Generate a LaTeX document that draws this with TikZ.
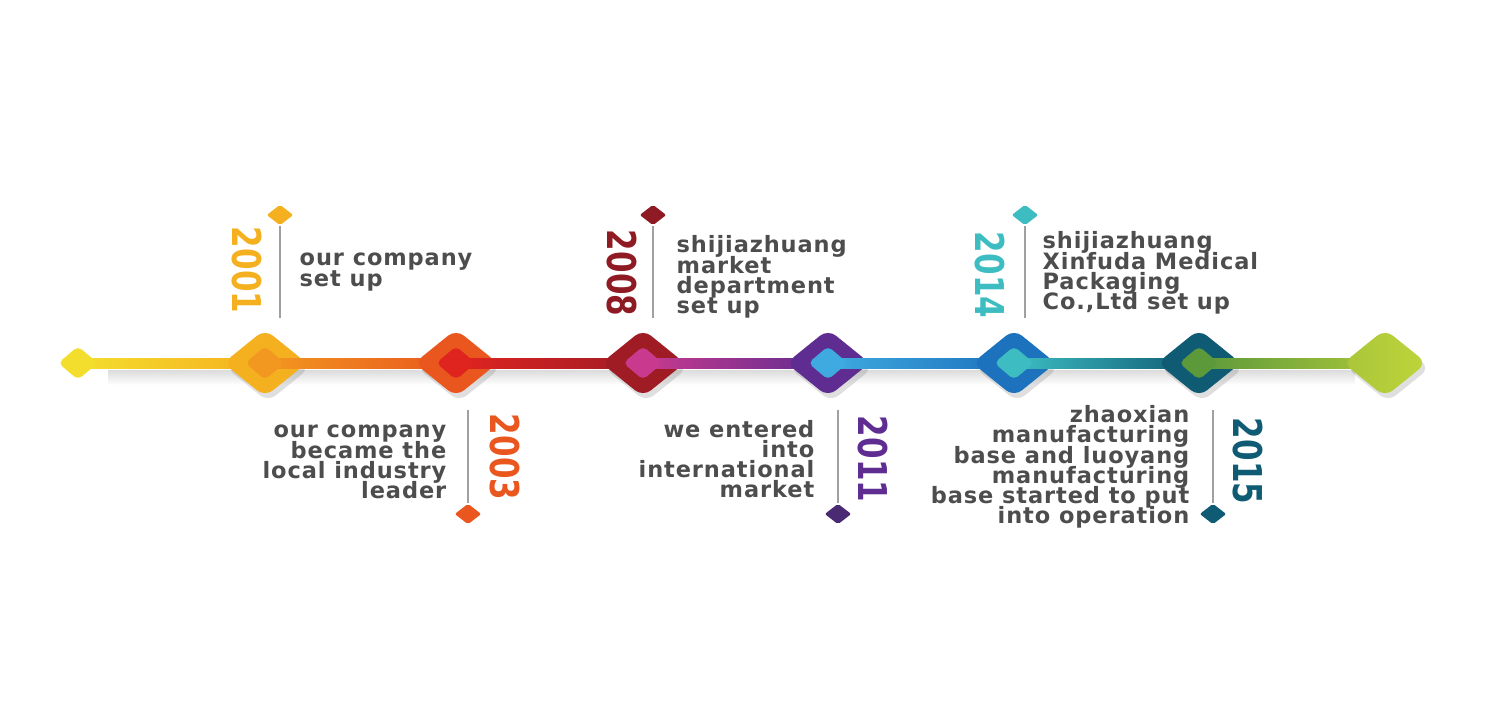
\documentclass[tikz,border=0pt]{standalone}
\usepackage{fontspec}
\usepackage{tikz}
\usetikzlibrary{positioning,calc,shapes.geometric,shadows}
\newfontfamily\descfont{DejaVu Sans}[LetterSpace=4]
\newfontfamily\yearfont{DejaVu Sans Bold}[FakeStretch=0.78]
\newcommand{\tlDescFont}{\descfont\bfseries\fontsize{6.4}{5.75}\selectfont\lineskiplimit=-10pt\relax}
\definecolor{tlStart}{RGB}{244,222,45}
\definecolor{tlA}{RGB}{245,176,31}
\definecolor{tlAin}{RGB}{242,152,32}
\definecolor{tlB}{RGB}{233,86,30}
\definecolor{tlBin}{RGB}{223,36,32}
\definecolor{tlC}{RGB}{160,28,37}
\definecolor{tlCpin}{RGB}{142,27,35}
\definecolor{tlCin}{RGB}{201,58,142}
\definecolor{tlD}{RGB}{95,44,145}
\definecolor{tlDpin}{RGB}{74,42,114}
\definecolor{tlDin}{RGB}{63,170,224}
\definecolor{tlE}{RGB}{29,114,189}
\definecolor{tlEin}{RGB}{61,189,194}
\definecolor{tlF}{RGB}{15,91,116}
\definecolor{tlFin}{RGB}{92,153,59}
\definecolor{tlEnd}{RGB}{169,198,58}
\definecolor{tlEndB}{RGB}{190,212,58}
\definecolor{tlGray}{RGB}{77,77,77}
\definecolor{tlPin}{RGB}{160,160,160}

\tikzset{
  bigdia/.style={diamond, minimum width=0.84cm, minimum height=0.68cm, inner sep=0pt,
    rounded corners=0.1cm,
    drop shadow={shadow xshift=0.03cm, shadow yshift=-0.05cm, opacity=0.25}},
  smalldia/.style={diamond, minimum width=0.40cm, minimum height=0.34cm, inner sep=0pt,
    rounded corners=0.05cm},
  pindia/.style={diamond, minimum width=0.27cm, minimum height=0.21cm, inner sep=0pt,
    rounded corners=0.02cm},
  pinline/.style={draw=tlPin, line width=0.7pt},
  yearlbl/.style={font=\yearfont\fontsize{11.3}{11.3}\selectfont, rotate=-90, inner sep=0pt},
  desctop/.style={font=\tlDescFont, text=tlGray, align=left, anchor=west, inner sep=0pt},
  descbot/.style={font=\tlDescFont, text=tlGray, align=right, anchor=east, inner sep=0pt}
}

\begin{document}
\begin{tikzpicture}
  \useasboundingbox (0,0) rectangle (15,7);

  % Milestone positions on the line
  \coordinate (m00) at (0.78,3.37);
  \coordinate (m01) at (2.65,3.37);
  \coordinate (m03) at (4.56,3.37);
  \coordinate (m08) at (6.43,3.37);
  \coordinate (m11) at (8.28,3.37);
  \coordinate (m14) at (10.14,3.37);
  \coordinate (m15) at (11.99,3.37);
  \coordinate (m99) at (13.85,3.37);

  % Shadow under the line
  \shade[top color=black!14, bottom color=white] ($(m00)+(0.3,-0.07)$) rectangle ($(m99)+(-0.3,-0.22)$);

  % Start
  \shade[left color=tlStart, right color=tlA] ($(m00)+(0,-0.05)$) rectangle ($(m01)+(0,0.05)$);
  \node[smalldia, fill=tlStart] (start) at (m00) {};

  % 2001
  \node[bigdia, fill=tlA] (d01) at (m01) {};
  \shade[left color=tlAin, right color=tlB] ($(m01)+(0,-0.05)$) rectangle ($(m03)+(0,0.05)$);
  \node[smalldia, fill=tlAin] (i01) at (m01) {};

  % 2003
  \node[bigdia, fill=tlB] (d03) at (m03) {};
  \shade[left color=tlBin, right color=tlC] ($(m03)+(0,-0.05)$) rectangle ($(m08)+(0,0.05)$);
  \node[smalldia, fill=tlBin] (i03) at (m03) {};

  % 2008
  \node[bigdia, fill=tlC] (d08) at (m08) {};
  \shade[left color=tlCin, right color=tlD] ($(m08)+(0,-0.05)$) rectangle ($(m11)+(0,0.05)$);
  \node[smalldia, fill=tlCin] (i08) at (m08) {};

  % 2011
  \node[bigdia, fill=tlD] (d11) at (m11) {};
  \shade[left color=tlDin, right color=tlE] ($(m11)+(0,-0.05)$) rectangle ($(m14)+(0,0.05)$);
  \node[smalldia, fill=tlDin] (i11) at (m11) {};

  % 2014
  \node[bigdia, fill=tlE] (d14) at (m14) {};
  \shade[left color=tlEin, right color=tlF] ($(m14)+(0,-0.05)$) rectangle ($(m15)+(0,0.05)$);
  \node[smalldia, fill=tlEin] (i14) at (m14) {};

  % 2015
  \node[bigdia, fill=tlF] (d15) at (m15) {};
  \shade[left color=tlFin, right color=tlEnd] ($(m15)+(0,-0.05)$) rectangle ($(m99)+(0,0.05)$);
  \node[smalldia, fill=tlFin] (i15) at (m15) {};

  % End
  \node[bigdia, left color=tlEnd, right color=tlEndB] (end) at (m99) {};

  % Labels above the line
  \node[pindia, fill=tlA] (pin01) at (2.80,4.85) {};
  \coordinate (foot01) at (2.80,3.82);
  \draw[pinline] (pin01.south) -- (foot01);
  \node[yearlbl, text=tlA] (yr01) at (2.47,4.30) {2001};
  \node[desctop] (txt01) at (2.99,4.28) {our company\\set up};

  \node[pindia, fill=tlCpin] (pin08) at (6.53,4.85) {};
  \coordinate (foot08) at (6.53,3.82);
  \draw[pinline] (pin08.south) -- (foot08);
  \node[yearlbl, text=tlCpin] (yr08) at (6.22,4.27) {2008};
  \node[desctop] (txt08) at (6.76,4.23) {shijiazhuang\\market\\department\\set up};

  \node[pindia, fill=tlEin] (pin14) at (10.25,4.85) {};
  \coordinate (foot14) at (10.25,3.82);
  \draw[pinline] (pin14.south) -- (foot14);
  \node[yearlbl, text=tlEin] (yr14) at (9.90,4.25) {2014};
  \node[desctop] (txt14) at (10.42,4.27) {shijiazhuang\\Xinfuda Medical\\Packaging\\Co.,Ltd set up};

  % Labels below the line
  \node[pindia, fill=tlB] (pin03) at (4.68,1.86) {};
  \coordinate (foot03) at (4.68,2.90);
  \draw[pinline] (pin03.north) -- (foot03);
  \node[yearlbl, text=tlB] (yr03) at (5.05,2.43) {2003};
  \node[descbot] (txt03) at (4.47,2.38) {our company\\became the\\local industry\\leader};

  \node[pindia, fill=tlDpin] (pin11) at (8.38,1.86) {};
  \coordinate (foot11) at (8.38,2.90);
  \draw[pinline] (pin11.north) -- (foot11);
  \node[yearlbl, text=tlD] (yr11) at (8.73,2.41) {2011};
  \node[descbot] (txt11) at (8.15,2.41) {we entered\\into\\international\\market};

  \node[pindia, fill=tlF] (pin15) at (12.13,1.86) {};
  \coordinate (foot15) at (12.13,2.90);
  \draw[pinline] (pin15.north) -- (foot15);
  \node[yearlbl, text=tlF] (yr15) at (12.48,2.39) {2015};
  \node[descbot] (txt15) at (11.90,2.33) {zhaoxian\\manufacturing\\base and luoyang\\manufacturing\\base started to put\\into operation};
\end{tikzpicture}
\end{document}
